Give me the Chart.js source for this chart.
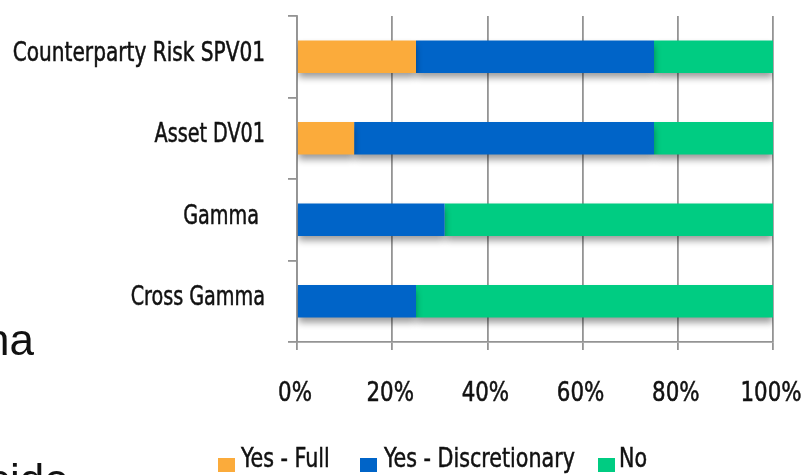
<html>
    <head>
        <meta name="viewport" content="width=device-width, initial-scale=1.0">
        <meta http-equiv="content-type" content="text/html; charset=UTF-8">
        <script src="https://cdn.jsdelivr.net/npm/chart.js"></script>
        <title>Risk measures</title>
        <style>
            body { margin: 0; background: #fff; overflow: hidden; }
            .stray { position: absolute; font-family: "Liberation Sans", Arial, sans-serif; font-size: 44px; color: #111; white-space: nowrap; line-height: 1; }
            .lg-box { position: absolute; width: 17px; height: 14px; top: 458px; }
            .lg-text { position: absolute; top: 444px; font-family: "DejaVu Sans Condensed", "DejaVu Sans", sans-serif; font-size: 27px; line-height: 1; color: #111; -webkit-text-stroke: 0.5px #111; white-space: nowrap; transform: scaleX(0.85); transform-origin: left top; }
        </style>
    </head>
    <body>
	<div class="chart-container" style="position: absolute; left: 0; top: 0; height: 475px; width: 805px">
            <canvas id="risk"></canvas>
	</div>
        <div class="stray" style="left: -15px; top: 318px;">na</div>
        <div class="stray" style="left: -12px; top: 458px;">side</div>
        <div id="legend"></div>

        <script>
            const categories = ['Counterparty Risk SPV01', 'Asset DV01', 'Gamma ', 'Cross Gamma'];
            const yesFull = [25, 12, 0, 0];
            const yesDiscretionary = [50, 63, 31, 25];
            const no = [25, 25, 69, 75];
            const xTicks = [0, 20, 40, 60, 80, 100];

            const labelFont = '"DejaVu Sans Condensed", "DejaVu Sans", sans-serif';
            const gridColor = '#949494';

            // soft drop shadow under the bars
            const barShadow = {
                id: 'barShadow',
                beforeDatasetsDraw(chart) {
                    const c = chart.ctx;
                    c.save();
                    c.shadowColor = 'rgba(0, 0, 0, 0.4)';
                    c.shadowBlur = 7;
                    c.shadowOffsetY = 5;
                },
                afterDatasetsDraw(chart) {
                    chart.ctx.restore();
                }
            };

            // tick labels in a narrow face, placed from the scales
            function narrowText(c, text, x, y, sx) {
                c.save();
                c.translate(x, y);
                c.scale(sx, 1);
                c.strokeText(text, 0, 0);
                c.fillText(text, 0, 0);
                c.restore();
            }

            const axisLabels = {
                id: 'axisLabels',
                afterDraw(chart) {
                    const c = chart.ctx;
                    const xs = chart.scales.x, ys = chart.scales.y;
                    c.save();
                    c.fillStyle = '#111';
                    c.strokeStyle = '#111';
                    c.lineWidth = 0.5;
                    c.font = '26px ' + labelFont;
                    c.textBaseline = 'middle';
                    c.textAlign = 'right';
                    categories.forEach((lab, i) => {
                        narrowText(c, lab, ys.left + ys.width - 32, ys.getPixelForValue(i) - 3, i === 0 ? 0.86 : 0.82);
                    });
                    c.font = '27px ' + labelFont;
                    c.textAlign = 'center';
                    xTicks.forEach((v) => {
                        narrowText(c, v + '%', xs.getPixelForValue(v) - 2, xs.top + 52, 0.88);
                    });
                    c.restore();
                }
            };

            var ctx = document.getElementById('risk');
            var chart = new Chart(ctx, {
                type: 'bar',
                data: {
                    labels: categories,
                    datasets: [{
                        label: 'Yes - Full',
                        data: yesFull,
			backgroundColor: '#fbab3b',
                    }, {
                        label: 'Yes - Discretionary',
                        data: yesDiscretionary,
			backgroundColor: '#0064c8',
                    }, {
                        label: 'No',
                        data: no,
			backgroundColor: '#00cc82',
                    }]
                },
                options: {
                    indexAxis: 'y',
                    animation: false,
                    responsive: true,
                    maintainAspectRatio: false,
                    layout: { padding: { top: 16, right: 32, left: 0, bottom: 0 } },
                    datasets: { bar: { barPercentage: 0.4, categoryPercentage: 1, borderWidth: 0 } },
                    plugins: { legend: { display: false }, tooltip: { enabled: false } },
                    scales: {
                        x: {
                            stacked: true,
                            min: 0,
                            max: 100,
                            afterFit: (scale) => {
                                scale.height = 133;
                                scale.paddingLeft = 0;
                                scale.paddingRight = 0;
                            },
                            afterBuildTicks: (scale) => { scale.ticks = xTicks.map(v => ({ value: v })); },
                            grid: { color: gridColor, lineWidth: 1.8, tickLength: 8 },
                            border: { color: gridColor, width: 1.8 },
                            ticks: { display: false }
                        },
                        y: {
                            stacked: true,
                            afterFit: (scale) => {
                                scale.width = 297;
                                scale.paddingTop = 0;
                                scale.paddingBottom = 0;
                            },
                            grid: { drawOnChartArea: false, color: gridColor, lineWidth: 1.8, tickLength: 9, offset: true },
                            border: { color: gridColor, width: 1.8 },
                            ticks: { display: false }
                        }
                    }
                },
                plugins: [barShadow, axisLabels]
            });

            // legend built from the datasets
            const legendBoxX = [218, 360, 598];
            const legendTextX = [241, 384, 619];
            var legend = document.getElementById('legend');
            chart.data.datasets.forEach((ds, i) => {
                var box = document.createElement('div');
                box.className = 'lg-box';
                box.style.left = legendBoxX[i] + 'px';
                box.style.background = ds.backgroundColor;
                var text = document.createElement('div');
                text.className = 'lg-text';
                text.style.left = legendTextX[i] + 'px';
                text.textContent = ds.label;
                legend.appendChild(box);
                legend.appendChild(text);
            });
        </script>
    </body>
</html>
